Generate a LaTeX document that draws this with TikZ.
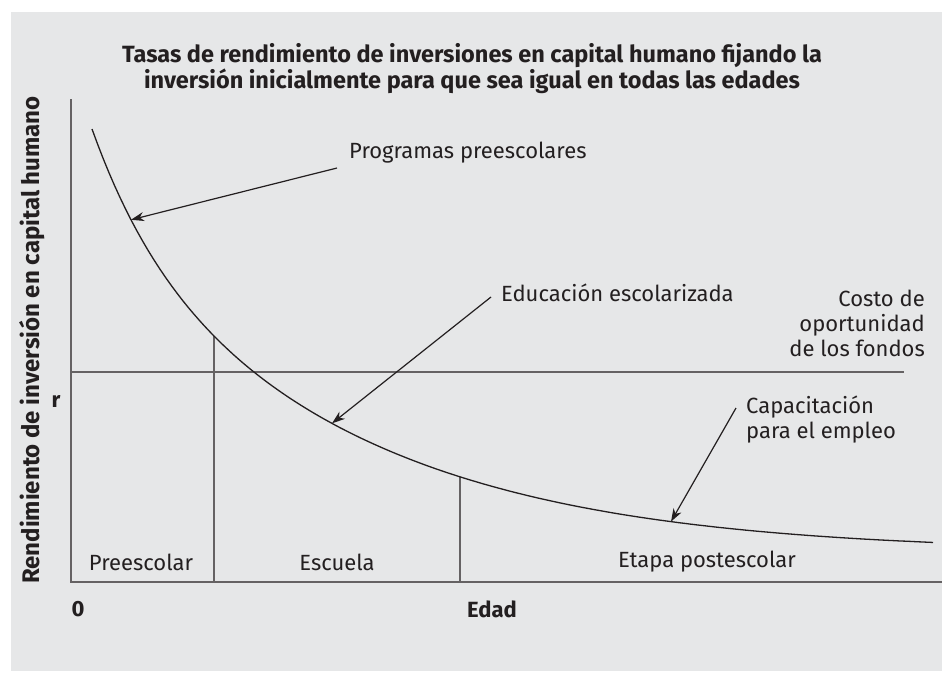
\documentclass[tikz,border=0pt]{standalone}
\usepackage{fontspec}
\setmainfont{Fira Sans}
\usetikzlibrary{arrows.meta}
\definecolor{panel}{HTML}{E6E7E8}
\definecolor{ink}{HTML}{231F20}
\tikzstyle{axis}=[draw=ink!70, line width=1.6pt]
\tikzstyle{curve}=[draw=ink, line width=1.3pt]
\tikzstyle{pointer}=[draw=ink, line width=1.2pt,
                     -{Stealth[length=13pt,width=9pt,inset=4pt]}]
\tikzstyle{txt}=[text=ink, inner sep=2pt,
                 font=\fontsize{22}{25}\selectfont]
\tikzstyle{bold}=[text=ink, inner sep=0pt,
                  font=\fontsize{22}{25}\selectfont\bfseries]
\tikzset{declare function={ret(\u)=552-423*exp(-0.0045*\u)+0.9*\u*exp(-\u/90);}}

\begin{document}
\begin{tikzpicture}[x=1pt,y=-1pt]
     \fill[white] (0,0) rectangle (942,672);
     \fill[panel] (11,12) rectangle (942,671);
     \useasboundingbox (0,0) rectangle (942,672);

     % labels
     \node (title) at (472,69) [bold, align=center,
          font=\fontsize{23.5}{26}\selectfont\bfseries]
          {Tasas de rendimiento de inversiones en capital humano fijando la\\
           inversión inicialmente para que sea igual en todas las edades};
     \node (ylab) at (32,340) [bold, rotate=90, font=\fontsize{24}{26}\selectfont\bfseries]
          {Rendimiento de inversión en capital humano};
     \node (r)    at (56,401)  [bold] {r};
     \node (zero) at (78,609)  [bold] {0};
     \node (edad) at (492,609) [bold] {Edad};
     \node (pre)  at (141,562) [txt] {Preescolar};
     \node (esc)  at (337,562) [txt] {Escuela};
     \node (post) at (707,562) [txt] {Etapa postescolar};
     \node (prog) at (347,153) [txt, anchor=west] {Programas preescolares};
     \node (edu)  at (499,293) [txt, anchor=west] {Educación escolarizada};
     \node (costo) at (927,323) [txt, anchor=east, align=right]
          {Costo de\\oportunidad\\de los fondos};
     \node (cap)  at (744,420) [txt, anchor=west, align=left]
          {Capacitación\\para el empleo};

     % axes and guides
     \coordinate (o)    at (71,582);
     \coordinate (ytop) at (71,99);
     \coordinate (xend) at (942,582);
     \coordinate (rl)   at (71,372);
     \coordinate (rr)   at (904,372);
     \coordinate (k1)   at (214,{ret(122)});
     \coordinate (k2)   at (460,{ret(368)});
     \draw[axis] (ytop) -- (o) -- (xend);
     \draw[axis] (rl) -- (rr);
     \foreach \k in {k1,k2}
       \draw[axis] (\k) -- (\k |- o);

     % return curve
     \draw[curve] plot[domain=0:841, samples=150, variable=\u]
          ({92+\u},{ret(\u)});

     % pointers
     \coordinate (tprog) at (131,{ret(39)});
     \coordinate (tedu)  at (332,{ret(240)});
     \coordinate (tcap)  at (671,{ret(579)});
     \draw[pointer] ([shift={(-10,15)}]prog.west) -- (tprog);
     \draw[pointer] ([shift={(-8,4)}]edu.west) -- (tedu);
     \draw[pointer] ([shift={(-8,-12)}]cap.west) -- (tcap);
\end{tikzpicture}
\end{document}
